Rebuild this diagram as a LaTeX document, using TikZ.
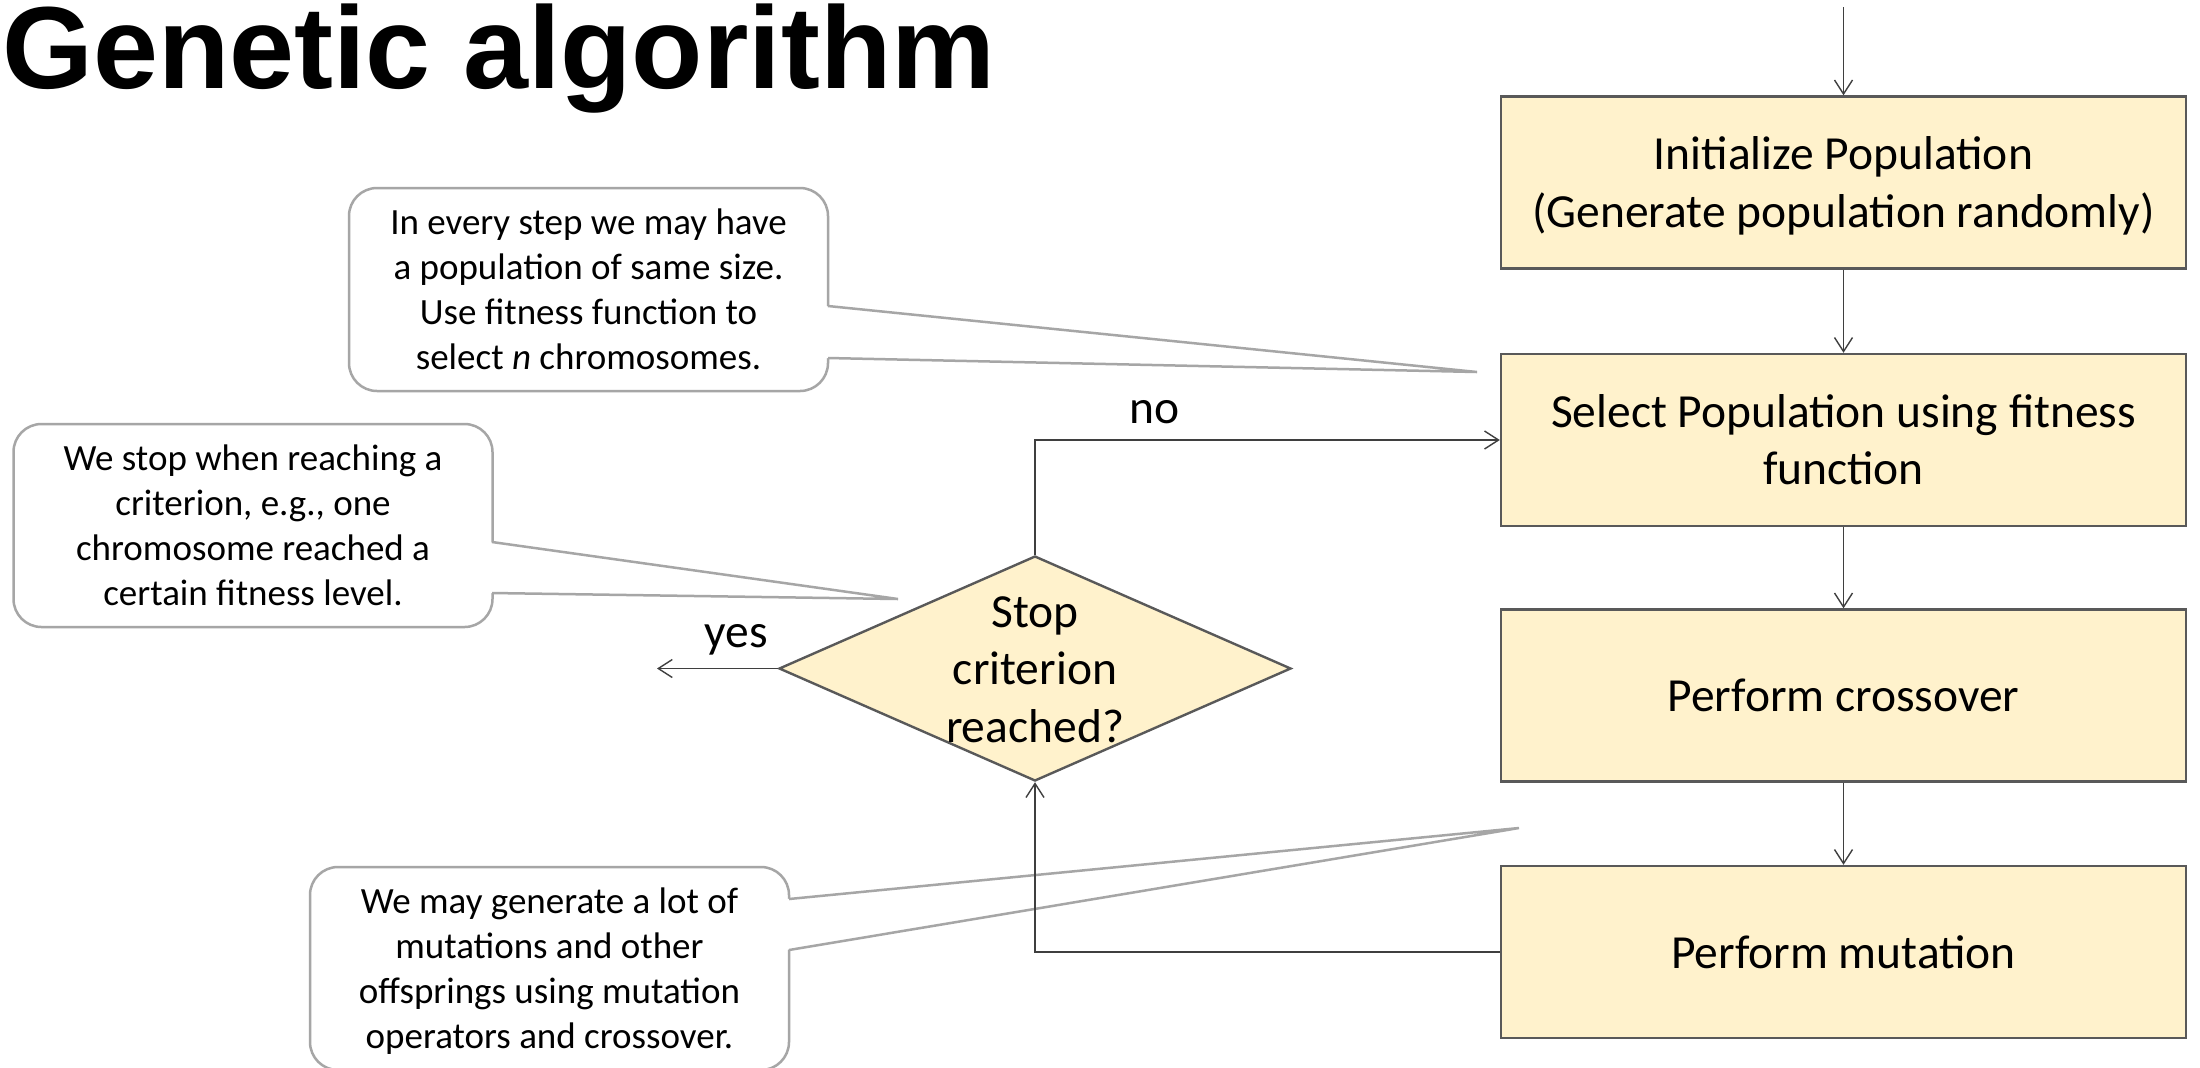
\documentclass[tikz,border=0pt]{standalone}
\usepackage{fontspec}
\setmainfont{Carlito}
\newfontfamily\titlefont{Liberation Sans}
\usetikzlibrary{arrows.meta,shapes.geometric}

\definecolor{boxfill}{HTML}{FFF2CC}
\definecolor{boxline}{HTML}{595959}
\definecolor{noteline}{HTML}{A6A6A6}
\definecolor{flowline}{HTML}{3F3F3F}

% Font ascender (start of first line) and descender (end of last line)
\newcommand\asc{\rule{0pt}{0.952em}}
\newcommand\dsc{\rule[-0.269em]{0pt}{0.269em}}

\begin{document}
\begin{tikzpicture}[x=0.5pt,y=-0.5pt,
  stepbox/.style={draw=boxline, line width=1.2pt, fill=boxfill,
    minimum width=342.5pt, minimum height=86pt, inner sep=0pt, align=center,
    font=\fontsize{23.75}{28.75}\selectfont},
  decision/.style={diamond, draw=boxline, line width=1.2pt, fill=boxfill,
    minimum width=256pt, minimum height=112.5pt, inner sep=0pt},
  note/.style={draw=noteline, line width=1.25pt, fill=white, rounded corners=14pt,
    minimum width=239.5pt, minimum height=101.5pt, inner sep=0pt, align=center,
    font=\fontsize{18.5}{22.5}\selectfont},
  pointer/.style={draw=noteline, line width=1.25pt, line join=miter},
  flow/.style={draw=flowline, line width=0.7pt, -{Straight Barb[length=7pt,width=9pt]}},
  flowlabel/.style={font=\fontsize{23.75}{28.75}\selectfont, inner sep=0pt, anchor=base},
]
\useasboundingbox (0,0) rectangle (2200,1067);
\fill[white] (0,0) rectangle (2200,1067);
\clip (0,0) rectangle (2200,1067);

% Title
\node[anchor=base west, inner sep=0pt, font=\titlefont\bfseries\fontsize{58.4}{60}\selectfont]
  (title) at (2,88) {Genetic algorithm};

% Callout notes with wedge pointers
\node[note] (note1) at (588.5,289.5)
  {\asc In every step we may have\\a population of same size.\\Use fitness function to\\select \textit{n} chromosomes.\dsc};
\coordinate (tip1) at (1477,372);
\fill[white] (825,306) -- (tip1) -- (825,358) -- cycle;
\draw[pointer] (828,306) -- (tip1) -- (828,358);

\node[note] (note2) at (253,525.5)
  {\asc We stop when reaching a\\criterion, e.g., one\\chromosome reached a\\certain fitness level.\dsc};
\coordinate (tip2) at (898,599);
\fill[white] (489,542) -- (tip2) -- (489,593) -- cycle;
\draw[pointer] (492,542) -- (tip2) -- (492,593);

\node[note] (note3) at (549.5,968.5)
  {\asc We may generate a lot of\\mutations and other\\offsprings using mutation\\operators and crossover.\dsc};
\coordinate (tip3) at (1519,828);
\fill[white] (786,899) -- (tip3) -- (786,950) -- cycle;
\draw[pointer] (789,899) -- (tip3) -- (789,950);

% Process boxes
\node[stepbox] (init) at (1843.5,182.5) {\asc Initialize Population\\(Generate population randomly)\dsc};
\node[stepbox] (select) at (1843.5,440) {\asc Select Population using fitness\\function\dsc};
\node[stepbox] (cross) at (1843.5,695.5) {\asc Perform crossover\dsc};
\node[stepbox] (mut) at (1843.5,952) {\asc Perform mutation\dsc};

% Decision
\node[decision] (stop) at (1035,668.5)
  [label={[font=\fontsize{23.75}{28.75}\selectfont, align=center, inner sep=0pt]center:\asc Stop\\criterion\\reached?\dsc}] {};

% Connectors
\coordinate (start) at (1843.5,7);
\coordinate (yesend) at (657,668.5);
\draw[flow] (start) -- (init);
\draw[flow] (init) -- (select);
\draw[flow] (select) -- (cross);
\draw[flow] (cross) -- (mut);
\draw[flow] (stop.north) |- (select.west)
  node[flowlabel, pos=0.629, yshift=8.5pt] {no};
\draw[flow] (stop.west) -- (yesend)
  node[flowlabel, pos=0.344, yshift=10.5pt] {yes};
\draw[flow] (mut.west) -| (stop.south);
\end{tikzpicture}
\end{document}
